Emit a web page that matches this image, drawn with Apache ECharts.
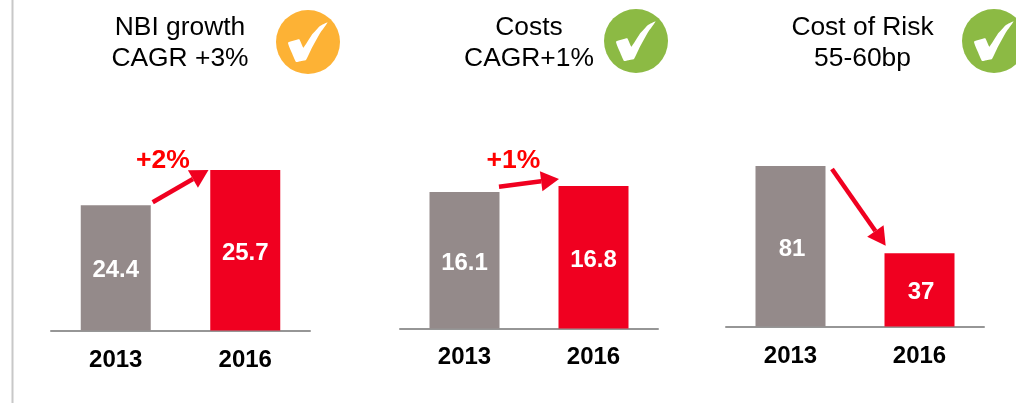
<!DOCTYPE html>
<html><head><meta charset="utf-8">
<style>html,body{margin:0;padding:0;background:#fff}#c{width:1016px;height:403px}</style>
<script src="https://cdn.jsdelivr.net/npm/echarts@6/dist/echarts.min.js"></script>
</head><body><div id="c"></div>
<script>
const categories = ['2013', '2016'];
const nbiValues = [24.4, 25.7];
const costsValues = [16.1, 16.8];
const riskValues = [81, 37];
const barColors = ['#948a8a', '#f00020'];
const FONT = '"Liberation Sans", Arial, sans-serif';

const panels = [
  {values: nbiValues,   left: 51,  width: 259, top: 170, height: 160.5, min: 19.76, max: 25.7, labelDx: 0, margin: 18},
  {values: costsValues, left: 400, width: 258, top: 186, height: 142.5, min: 0, max: 16.8, labelDx: 0, margin: 17},
  {values: riskValues,  left: 726, width: 258, top: 166, height: 160.5, min: 0, max: 81, labelDx: 1.5, margin: 18}
];

const titles = [
  {text: 'NBI growth\nCAGR +3%', x: 180, y: 43.5},
  {text: 'Costs\nCAGR+1%', x: 529, y: 43},
  {text: 'Cost of Risk\n55-60bp', x: 862.5, y: 43}
];
const badges = [
  {x: 308, y: 42, color: '#fdb235'},
  {x: 636, y: 41, color: '#8cba44'},
  {x: 994, y: 41, color: '#8cba44'}
];
const tickShape = [[-20,0.7],[-8.7,-2.7],[-4.7,5.7],[3.7,-7],[12,-16],[19.7,-19.7],[12,-8.7],[3.7,6.3],[-2,18],[-6.3,19],[-12,20],[-16,11.3]];
const arrows = [
  {from: [152.7, 202.3], to: [208.5, 170]},
  {from: [499, 186.7], to: [559, 179]},
  {from: [832, 169], to: [885.7, 245.7]}
];
const deltas = [
  {text: '+2%', x: 163, y: 161},
  {text: '+1%', x: 513.5, y: 161}
];

const graphic = [];
graphic.push({type: 'rect', shape: {x: 11.5, y: 0, width: 2, height: 403}, style: {fill: '#c8c8c8'}, silent: true});
titles.forEach(t => graphic.push({
  type: 'text', x: t.x, y: t.y,
  style: {text: t.text, fill: '#000', font: '26.4px ' + FONT, align: 'center', verticalAlign: 'middle', lineHeight: 31}
}));
badges.forEach(b => {
  graphic.push({type: 'circle', shape: {cx: b.x, cy: b.y, r: 32}, style: {fill: b.color}});
  graphic.push({type: 'polygon', shape: {points: tickShape.map(p => [b.x + p[0], b.y + p[1]]), smooth: 0.1}, style: {fill: '#fff'}});
});
arrows.forEach(a => {
  const dx = a.to[0] - a.from[0], dy = a.to[1] - a.from[1];
  const len = Math.hypot(dx, dy), ux = dx / len, uy = dy / len;
  const headLen = 18, headHalf = 10;
  const bx = a.to[0] - ux * headLen, by = a.to[1] - uy * headLen;
  graphic.push({type: 'line', shape: {x1: a.from[0], y1: a.from[1], x2: bx, y2: by}, style: {stroke: '#f00020', lineWidth: 4.5}});
  graphic.push({type: 'polygon', shape: {points: [a.to, [bx - uy * headHalf, by + ux * headHalf], [bx + uy * headHalf, by - ux * headHalf]]}, style: {fill: '#f00020'}});
});
deltas.forEach(d => graphic.push({
  type: 'text', x: d.x, y: d.y,
  style: {text: d.text, fill: '#ff0000', font: 'bold 26.5px ' + FONT, align: 'center', verticalAlign: 'middle'}
}));

const option = {
  animation: false,
  backgroundColor: '#fff',
  graphic: graphic,
  grid: panels.map(p => ({left: p.left, width: p.width, top: p.top, height: p.height, containLabel: false})),
  xAxis: panels.map((p, i) => ({
    type: 'category', gridIndex: i, data: categories,
    axisTick: {show: false},
    axisLine: {show: true, lineStyle: {color: '#969696', width: 2}},
    axisLabel: {color: '#000', fontFamily: FONT, fontWeight: 'bold', fontSize: 24, margin: p.margin, interval: 0}
  })),
  yAxis: panels.map((p, i) => ({type: 'value', gridIndex: i, min: p.min, max: p.max, show: false, splitLine: {show: false}})),
  series: panels.map((p, i) => ({
    type: 'bar', xAxisIndex: i, yAxisIndex: i, barWidth: 70,
    data: p.values.map((v, j) => ({value: v, itemStyle: {color: barColors[j]}})),
    label: {show: true, position: 'inside', offset: [p.labelDx, 3], color: '#fff', fontFamily: FONT, fontWeight: 'bold', fontSize: 24}
  }))
};
echarts.init(document.getElementById('c'), null, {renderer: 'canvas'}).setOption(option);
</script></body></html>
